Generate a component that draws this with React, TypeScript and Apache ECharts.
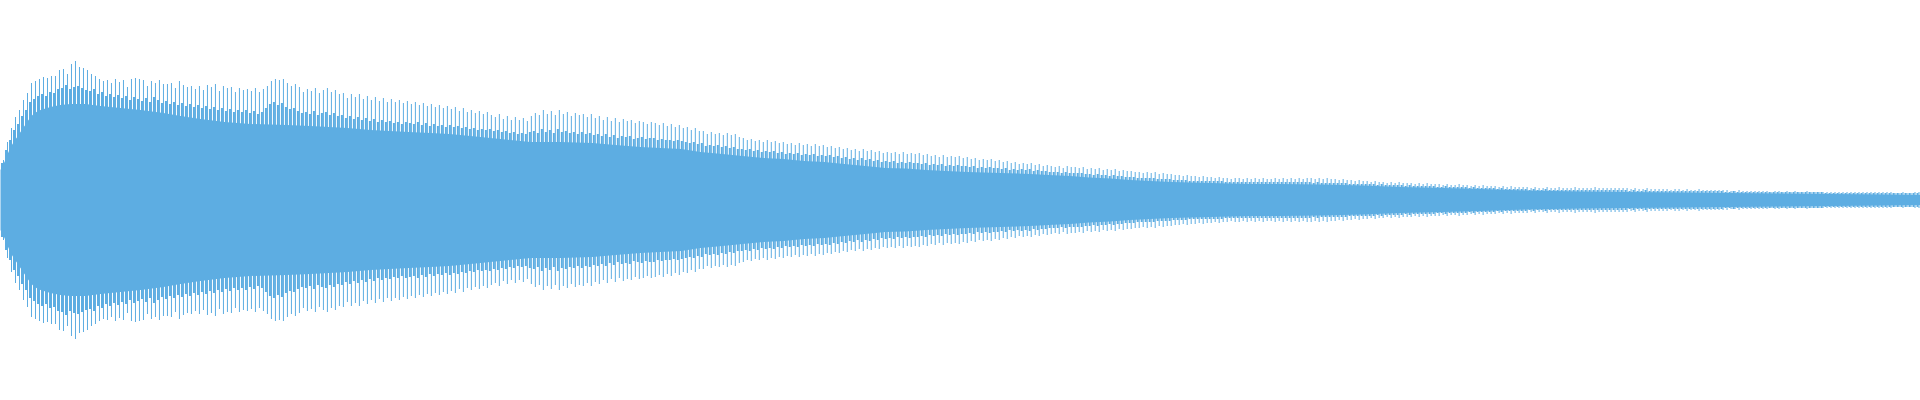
import React, { useEffect, useRef } from "react";
import * as echarts from "echarts";

// Waveform amplitude (pixels-from-centre units, axis spans -200..200)
// Tall peaks, one per sample period
const tallPeaks: number[] = [
  40, 58, 72, 83, 90, 100, 107, 117, 119, 121,
  123, 122, 124, 124, 130, 131, 126, 136, 139, 133,
  132, 130, 126, 124, 121, 119, 120, 117, 121, 118,
  120, 113, 121, 122, 121, 120, 114, 119, 117, 120,
  116, 116, 117, 112, 119, 115, 113, 114, 111, 114,
  110, 115, 113, 116, 109, 114, 112, 113, 108, 112,
  110, 111, 109, 112, 108, 111, 114, 119, 121, 120,
  121, 117, 114, 116, 113, 108, 111, 109, 112, 107,
  110, 112, 108, 110, 106, 107, 102, 106, 103, 106,
  101, 104, 100, 103, 99, 102, 98, 101, 98, 100,
  97, 99, 96, 98, 95, 97, 94, 96, 93, 95,
  92, 94, 91, 93, 89, 92, 88, 90, 87, 89,
  86, 88, 85, 83, 86, 81, 84, 80, 83, 80,
  82, 79, 84, 87, 85, 90, 86, 89, 85, 90,
  86, 88, 84, 87, 85, 86, 83, 86, 82, 84,
  80, 83, 79, 82, 78, 81, 79, 80, 77, 79,
  78, 76, 78, 77, 75, 77, 74, 76, 73, 75,
  72, 73, 70, 72, 69, 69, 66, 68, 66, 67,
  65, 67, 65, 66, 63, 62, 60, 61, 59, 60,
  58, 60, 58, 59, 57, 58, 56, 57, 55, 57,
  55, 56, 54, 56, 54, 55, 53, 54, 52, 53,
  51, 52, 50, 51, 49, 51, 49, 50, 48, 49,
  47, 48, 47, 48, 46, 48, 46, 47, 46, 47,
  45, 46, 44, 45, 43, 45, 43, 44, 43, 44,
  42, 43, 41, 42, 40, 41, 40, 41, 39, 40,
  38, 39, 37, 38, 36, 37, 36, 37, 35, 36,
  34, 35, 34, 33, 34, 32, 34, 33, 33, 32,
  33, 31, 32, 31, 32, 30, 31, 30, 31, 29,
  30, 29, 29, 28, 28, 27, 28, 27, 28, 26,
  27, 26, 26, 25, 25, 24, 25, 24, 24, 23,
  24, 23, 23, 22, 23, 22, 22, 21, 22, 22,
  21, 22, 21, 22, 21, 22, 21, 21, 22, 21,
  22, 21, 22, 21, 22, 21, 22, 22, 21, 22,
  21, 22, 21, 21, 20, 21, 20, 20, 19, 20,
  19, 19, 18, 19, 18, 18, 17, 18, 17, 18,
  17, 17, 17, 16, 17, 16, 17, 16, 16, 16,
  15, 16, 15, 15, 16, 15, 15, 14, 15, 14,
  15, 14, 14, 14, 13, 14, 13, 14, 13, 13,
  13, 13, 12, 13, 12, 12, 13, 12, 12, 13,
  12, 12, 12, 13, 12, 12, 12, 12, 13, 12,
  12, 12, 12, 12, 12, 12, 12, 11, 12, 11,
  11, 12, 11, 11, 11, 11, 11, 10, 11, 11,
  10, 11, 10, 10, 11, 10, 10, 10, 10, 10,
  10, 10, 9, 9, 10, 9, 9, 9, 9, 9,
  9, 9, 8, 9, 9, 8, 9, 8, 9, 8,
  8, 9, 8, 8, 8, 8, 8, 8, 8, 8,
  8, 8, 8, 8, 8, 8, 8, 8, 8, 8,
  8, 8, 8, 7, 7, 8, 7, 7, 8, 8,
];

// Shorter peaks sitting next to each tall peak
const shortPeaks: number[] = [
  37, 50, 60, 70, 76, 84, 90, 98, 101, 104,
  106, 104, 108, 107, 111, 112, 115, 111, 113, 114,
  112, 110, 109, 111, 106, 108, 104, 106, 103, 105,
  102, 104, 100, 103, 101, 99, 102, 98, 103, 100,
  97, 99, 96, 98, 95, 97, 94, 96, 93, 95,
  92, 94, 91, 93, 90, 92, 89, 91, 88, 90,
  88, 90, 87, 89, 86, 88, 92, 96, 98, 95,
  97, 93, 91, 92, 89, 87, 88, 86, 89, 85,
  87, 88, 85, 87, 84, 85, 82, 84, 81, 83,
  80, 82, 79, 81, 78, 80, 78, 79, 77, 78,
  76, 78, 77, 76, 78, 75, 77, 74, 76, 74,
  75, 73, 75, 73, 74, 72, 73, 71, 72, 70,
  71, 70, 71, 69, 70, 68, 69, 67, 68, 66,
  67, 66, 68, 69, 67, 71, 68, 70, 67, 71,
  68, 69, 67, 68, 66, 68, 66, 67, 65, 66,
  64, 66, 63, 65, 62, 64, 63, 64, 61, 62,
  63, 61, 62, 62, 60, 61, 60, 60, 59, 60,
  59, 58, 57, 58, 56, 57, 54, 55, 54, 55,
  53, 54, 52, 53, 51, 51, 50, 51, 49, 50,
  48, 49, 48, 49, 47, 48, 46, 47, 46, 47,
  45, 46, 45, 46, 44, 45, 44, 45, 43, 44,
  42, 43, 41, 42, 40, 42, 40, 41, 39, 40,
  38, 39, 38, 39, 37, 38, 37, 38, 37, 37,
  36, 37, 35, 36, 35, 36, 34, 35, 34, 35,
  34, 34, 33, 34, 32, 33, 32, 33, 32, 32,
  31, 32, 30, 31, 30, 31, 30, 31, 29, 30,
  29, 29, 28, 28, 28, 27, 28, 27, 27, 27,
  27, 26, 26, 25, 26, 25, 25, 24, 25, 24,
  24, 23, 23, 23, 22, 22, 22, 22, 22, 21,
  21, 21, 21, 20, 20, 20, 20, 19, 19, 19,
  19, 19, 19, 19, 19, 19, 18, 18, 18, 18,
  18, 18, 18, 18, 18, 18, 18, 18, 18, 18,
  18, 18, 18, 18, 18, 18, 18, 18, 17, 18,
  17, 17, 17, 17, 17, 17, 17, 16, 16, 16,
  16, 16, 16, 16, 15, 16, 15, 15, 15, 15,
  15, 14, 15, 14, 14, 14, 14, 14, 14, 13,
  13, 14, 13, 13, 13, 13, 13, 12, 13, 12,
  12, 12, 12, 12, 11, 12, 11, 11, 11, 11,
  11, 11, 10, 11, 10, 10, 11, 10, 10, 10,
  10, 10, 10, 10, 10, 10, 10, 10, 10, 10,
  10, 10, 10, 10, 10, 10, 10, 9, 10, 9,
  9, 10, 9, 9, 9, 9, 9, 9, 9, 9,
  9, 9, 9, 9, 9, 9, 9, 9, 9, 9,
  9, 8, 8, 9, 8, 8, 8, 8, 8, 8,
  8, 8, 8, 8, 8, 8, 8, 8, 8, 8,
  8, 8, 8, 8, 8, 8, 7, 7, 7, 7,
  7, 7, 7, 7, 7, 7, 7, 7, 7, 7,
  7, 7, 7, 7, 7, 7, 7, 7, 7, 7,
];

// Solid body envelope: [position along the clip (0..1920), amplitude]
const bodyEnvelope: [number, number][] = [
  [0, 30], [4, 38], [8, 48], [12, 56], [16, 62], [20, 68], [24, 74], [28, 80],
  [32, 85], [36, 88], [40, 90], [50, 93], [60, 95], [70, 96], [85, 96], [100, 94],
  [120, 92], [140, 90], [163, 87], [180, 84], [200, 81], [224, 78], [250, 76],
  [286, 75], [310, 74], [347, 72], [370, 70], [408, 68], [430, 67], [449, 66],
  [470, 64], [490, 62], [510, 60], [530, 58], [560, 58], [592, 57], [615, 55],
  [640, 53], [660, 52], [681, 51], [700, 48], [722, 46], [742, 44], [763, 42],
  [783, 41], [804, 39], [824, 38], [844, 36], [865, 34], [885, 32], [905, 31.5],
  [926, 30], [946, 29], [967, 28], [1000, 27], [1030, 26], [1048, 25], [1070, 24],
  [1089, 22.5], [1110, 21.5], [1130, 20], [1150, 19], [1171, 18], [1210, 17],
  [1250, 16], [1280, 16], [1320, 15.5], [1362, 14.5], [1400, 13], [1443, 12],
  [1480, 11], [1525, 9.5], [1580, 8.5], [1627, 8], [1680, 7.5], [1729, 7],
  [1780, 6.5], [1831, 6], [1880, 5.5], [1920, 5],
];

const WAVE_COLOR = "#5DADE2";

export default function App() {
  const ref = useRef<HTMLDivElement>(null);

  useEffect(() => {
    if (!ref.current) return;
    const chart = echarts.init(ref.current, undefined, { renderer: "svg" });
    const categories = tallPeaks.map((_, i) => String(i));
    const neg = (a: number[]) => a.map((v) => -v);
    const barBase = {
      type: "bar" as const,
      xAxisIndex: 0,
      yAxisIndex: 0,
      barGap: "0%",
      itemStyle: { color: WAVE_COLOR },
      silent: true,
    };
    const areaBase = {
      type: "line" as const,
      xAxisIndex: 1,
      yAxisIndex: 0,
      symbol: "none",
      smooth: false,
      lineStyle: { width: 0, color: WAVE_COLOR },
      areaStyle: { color: WAVE_COLOR, opacity: 1 },
      silent: true,
    };
    chart.setOption({
      animation: false,
      backgroundColor: "#ffffff",
      grid: { left: 0.5, right: -0.5, top: 0, bottom: 0, containLabel: false },
      xAxis: [
        { type: "category", data: categories, boundaryGap: true, show: false },
        { type: "value", min: 0, max: 1920, show: false },
      ],
      yAxis: { type: "value", min: -200, max: 200, show: false },
      tooltip: { show: false },
      series: [
        { ...areaBase, data: bodyEnvelope },
        { ...areaBase, data: bodyEnvelope.map(([x, v]) => [x, -v]) },
        { ...barBase, barWidth: 2, stack: "short", data: shortPeaks },
        { ...barBase, barWidth: 2, stack: "short", data: neg(shortPeaks) },
        { ...barBase, barWidth: 1, stack: "tall", data: tallPeaks },
        { ...barBase, barWidth: 1, stack: "tall", data: neg(tallPeaks) },
      ],
    });
    return () => chart.dispose();
  }, []);

  return (
    <div
      ref={ref}
      style={{ position: "absolute", left: 0, top: 0, width: 1920, height: 400 }}
    />
  );
}
